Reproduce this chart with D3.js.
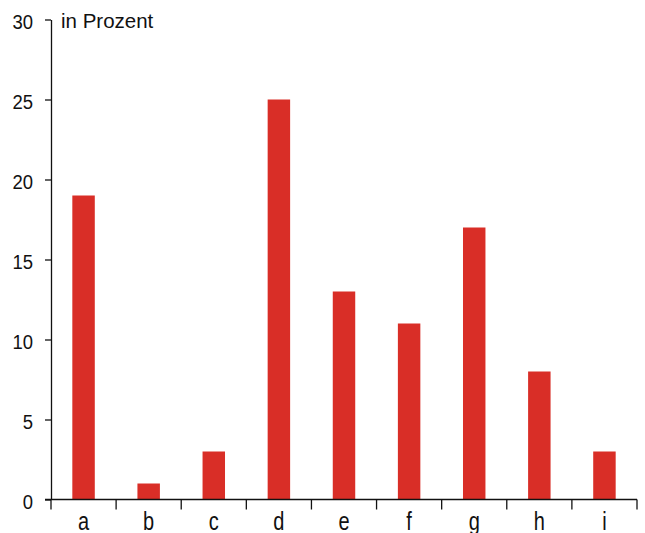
<!DOCTYPE html>
<html lang="de">
<head>
<meta charset="UTF-8">
<title>in Prozent</title>
<script src="https://d3js.org/d3.v7.min.js"></script>
<style>
  body { margin: 0; background: #fff; }
  svg { display: block; }
  svg text { font-family: "Liberation Sans", Arial, sans-serif; fill: #111; }
  .axis path, .axis line { stroke: #111; stroke-width: 1.3px; }
</style>
</head>
<body>
<svg id="chart"></svg>
<script>
  const categories = ["a", "b", "c", "d", "e", "f", "g", "h", "i"];
  const values = [19, 1, 3, 25, 13, 11, 17, 8, 3];
  const yTicks = [0, 5, 10, 15, 20, 25, 30];
  const unitLabel = "in Prozent";

  const W = 645, H = 533;
  const margin = { top: 19.5, right: 8, bottom: 33.5, left: 51 };
  const width = W - margin.left - margin.right;
  const height = H - margin.top - margin.bottom;

  const svg = d3.select("#chart").attr("width", W).attr("height", H);
  const g = svg.append("g").attr("transform", `translate(${margin.left},${margin.top})`);

  const x = d3.scaleBand()
      .domain(categories)
      .range([0, width])
      .paddingInner(0.655)
      .paddingOuter(0.3275);

  const y = d3.scaleLinear().domain([0, 30]).range([height, 0]);

  // bars
  g.selectAll("rect.bar")
    .data(categories)
    .join("rect")
      .attr("class", "bar")
      .attr("x", d => x(d))
      .attr("y", (d, i) => y(values[i]))
      .attr("width", x.bandwidth())
      .attr("height", (d, i) => y(0) - y(values[i]))
      .attr("fill", "#d92e27");

  // y axis (labels in a slightly condensed face)
  const yAxis = g.append("g")
      .attr("class", "axis")
      .call(d3.axisLeft(y).tickValues(yTicks).tickSize(6).tickSizeOuter(0).tickPadding(12));
  yAxis.selectAll("text")
      .style("font-size", "21px")
      .attr("dy", "0.43em")
      .attr("x", 0)
      .attr("transform", "translate(-18,0) scale(0.88,1)");

  // x axis: labels at band centres, tick marks at band boundaries
  const xAxis = g.append("g")
      .attr("class", "axis")
      .attr("transform", `translate(0,${height})`)
      .call(d3.axisBottom(x).tickSize(0).tickSizeOuter(0).tickPadding(12.75));
  xAxis.select(".domain").remove();
  xAxis.selectAll("text")
      .style("font-size", "25px")
      .attr("transform", "scale(0.8,1)");

  const bounds = categories.map(d => x(d) - x.step() * x.paddingInner() / 2);
  bounds.push(width);
  xAxis.append("line")
      .attr("x1", -6).attr("x2", width)
      .attr("stroke", "#111").attr("stroke-width", 1.3);
  xAxis.selectAll("line.bound")
    .data(bounds)
    .join("line")
      .attr("class", "bound")
      .attr("x1", d => d).attr("x2", d => d)
      .attr("y1", 0).attr("y2", 10)
      .attr("stroke", "#111").attr("stroke-width", 1.3);

  // unit label
  g.append("text")
      .attr("x", 10)
      .attr("y", y(30) + 8.5)
      .style("font-size", "20.5px")
      .text(unitLabel);
</script>
</body>
</html>
